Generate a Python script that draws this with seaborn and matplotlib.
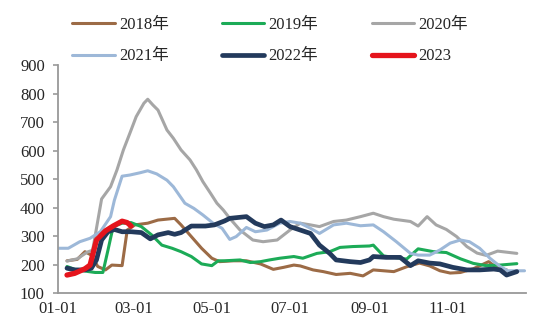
import matplotlib
matplotlib.use("Agg")
import matplotlib.pyplot as plt
import seaborn as sns
import pandas as pd

# ---- data (day of year offset from Jan 1, value) ----
days_2018 = [7, 15, 21, 26, 31, 37, 42, 50, 54, 60, 70, 78, 91, 96, 104, 112, 120, 126, 137, 147,
             158, 168, 176, 184, 189, 199, 207, 217, 228, 238, 246, 262, 272, 282, 290, 298, 306,
             314, 324, 336, 342, 350]
vals_2018 = [213, 218, 245, 233, 193, 181, 198, 196, 321, 339, 345, 356, 362, 339, 298, 257, 222, 210,
             213, 213, 202, 183, 190, 198, 195, 181, 175, 165, 169, 160, 181, 175, 192, 205, 195, 178,
             170, 172, 185, 210, 190, 181]

days_2019 = [7, 13, 24, 29, 35, 39, 43, 50, 57, 65, 73, 81, 89, 96, 104, 112, 120, 125, 130, 142,
             150, 158, 165, 173, 184, 191, 202, 212, 220, 230, 243, 246, 254, 272, 281, 293, 303,
             314, 324, 334, 345, 358]
vals_2019 = [193, 183, 175, 172, 172, 251, 333, 345, 347, 333, 304, 268, 257, 245, 228, 202, 196, 213,
             213, 216, 207, 210, 216, 222, 228, 222, 239, 245, 260, 263, 265, 268, 230, 219, 255, 245,
             242, 220, 204, 196, 198, 203]

days_2020 = [7, 15, 23, 27, 34, 41, 46, 51, 56, 61, 67, 70, 74, 78, 85, 90, 96, 103, 108, 113, 119,
             124, 129, 134, 142, 152, 160, 171, 181, 189, 197, 204, 215, 225, 236, 246, 254, 262,
             275, 281, 288, 295, 303, 311, 319, 327, 334, 343, 358]
vals_2020 = [212, 220, 244, 250, 430, 473, 532, 602, 660, 719, 766, 780, 760, 742, 672, 643, 602, 567,
             532, 491, 450, 415, 391, 362, 321, 286, 280, 286, 321, 345, 339, 333, 351, 356, 368, 380,
             368, 359, 351, 335, 368, 339, 323, 298, 263, 240, 232, 247, 239]

days_2021 = [0, 8, 17, 25, 33, 41, 44, 50, 56, 64, 70, 77, 85, 90, 99, 106, 113, 121, 128, 134, 139,
             147, 154, 163, 173, 181, 189, 197, 204, 215, 225, 236, 246, 254, 264, 275, 281, 290,
             298, 306, 314, 321, 329, 337, 345, 351, 364]
vals_2021 = [257, 257, 280, 292, 315, 368, 426, 510, 514, 522, 529, 518, 496, 473, 415, 397, 374, 345,
             327, 288, 298, 330, 315, 321, 345, 351, 345, 327, 309, 339, 345, 336, 339, 315, 280, 239,
             233, 233, 251, 275, 286, 280, 257, 222, 193, 178, 178]

days_2022 = [7, 13, 21, 26, 30, 34, 39, 44, 50, 57, 65, 72, 78, 86, 91, 96, 104, 115, 122, 130, 134,
             147, 154, 161, 168, 174, 181, 189, 197, 204, 212, 217, 228, 236, 243, 246, 256, 267,
             275, 281, 290, 298, 308, 319, 329, 340, 345, 350, 358]
vals_2022 = [187, 181, 181, 187, 216, 286, 315, 323, 315, 315, 312, 290, 304, 312, 306, 312, 335, 335,
             339, 353, 362, 368, 345, 333, 339, 356, 333, 321, 309, 268, 239, 216, 210, 207, 216, 228,
             225, 225, 196, 213, 205, 202, 190, 181, 181, 184, 181, 163, 175]

days_2023 = [7, 13, 21, 25, 28, 30, 37, 43, 50, 54, 57]
vals_2023 = [163, 169, 185, 198, 251, 286, 318, 335, 352, 347, 335]

series_names = ["2018年", "2019年", "2020年", "2021年", "2022年", "2023"]
series_days = [days_2018, days_2019, days_2020, days_2021, days_2022, days_2023]
series_vals = [vals_2018, vals_2019, vals_2020, vals_2021, vals_2022, vals_2023]
colors = ["#9C6B46", "#1CAB57", "#A6A6A6", "#9DB8D8", "#233A5C", "#E5141C"]
widths = [2.2, 2.2, 2.2, 2.2, 3.4, 3.8]

x_ticks = ["01-01", "03-01", "05-01", "07-01", "09-01", "11-01"]
y_ticks = [100, 200, 300, 400, 500, 600, 700, 800, 900]

base = pd.Timestamp("2001-01-01")
frames = []
for name, d, v in zip(series_names, series_days, series_vals):
    frames.append(pd.DataFrame({"date": [base + pd.Timedelta(days=x) for x in d],
                                "value": v, "year": name}))
df = pd.concat(frames, ignore_index=True)

sns.set_theme(style="white")
plt.rcParams["font.family"] = ["Liberation Serif", "Noto Sans CJK SC", "DejaVu Sans"]

fig = plt.figure(figsize=(5.5, 3.32), dpi=100)
ax = fig.add_axes([0.1055, 0.1175, 0.8505, 0.6865])

for name, c, w in zip(series_names, colors, widths):
    sub = df[df["year"] == name]
    sns.lineplot(data=sub, x="date", y="value", ax=ax, color=c, linewidth=w,
                 label=name, estimator=None, sort=True)

ax.set_xlim(base, base + pd.Timedelta(days=365))
ax.set_ylim(100, 900)
ax.set_yticks(y_ticks)
ax.set_yticklabels([str(t) for t in y_ticks])
ax.set_xticks([pd.Timestamp("2001-" + t) for t in x_ticks])
ax.set_xticklabels(x_ticks)
ax.set_xlabel("")
ax.set_ylabel("")
ax.tick_params(axis="y", length=3.5, width=1.2, color="#999999", labelsize=12, pad=6, left=True)
ax.tick_params(axis="x", length=0, labelsize=12, pad=6)
for s in ["top", "right"]:
    ax.spines[s].set_visible(False)
for s in ["left", "bottom"]:
    ax.spines[s].set_color("#999999")
    ax.spines[s].set_linewidth(1.3)

handles, labels = ax.get_legend_handles_labels()
order = [0, 3, 1, 4, 2, 5]  # row-wise layout with 3 columns
ax.legend([handles[i] for i in order], [labels[i] for i in order], ncol=3,
          loc="upper left", bbox_to_anchor=(0.122, 0.965),
          bbox_transform=fig.transFigure, frameon=False, fontsize=12,
          handlelength=2.55, handletextpad=0.25, columnspacing=3.2, labelspacing=0.95,
          borderaxespad=0.0, borderpad=0.3)

fig.savefig("out.png", dpi=100)
